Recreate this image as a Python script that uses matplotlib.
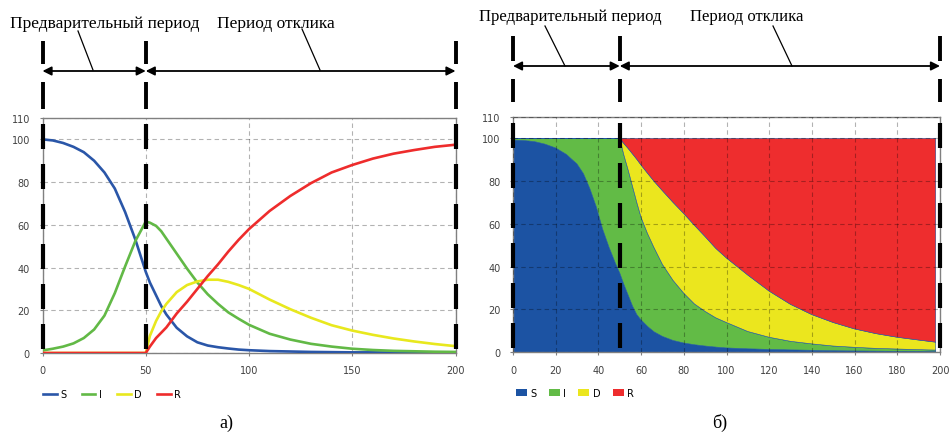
import matplotlib
matplotlib.use("Agg")
import matplotlib.pyplot as plt
from matplotlib.patches import Patch
from matplotlib.lines import Line2D
from matplotlib.transforms import blended_transform_factory

# ---- data: left chart (lines) ----
t = [0, 5, 10, 15, 20, 25, 30, 35, 40, 45, 50, 52, 55, 57.5, 60, 65, 70, 75, 80, 85, 90, 95,
     100, 110, 120, 130, 140, 150, 160, 170, 180, 190, 200]
S = [100, 99.5, 98.3, 96.5, 94, 90, 84.5, 77, 66, 53, 38, 33, 27, 22, 18, 11.8, 7.8, 5, 3.5, 2.7, 2.1, 1.6,
     1.3, 0.9, 0.7, 0.5, 0.4, 0.3, 0.3, 0.2, 0.2, 0.2, 0.1]
I = [1.2, 2, 3, 4.5, 7, 11, 17.5, 28, 40.5, 52.5, 61.5, 61, 59.5, 57, 53.5, 46.5, 39.5, 33, 27.5, 23, 19, 16,
     13.2, 9, 6.3, 4.3, 3, 2, 1.4, 1, 0.8, 0.6, 0.5]
D = [0, 0, 0, 0, 0, 0, 0, 0, 0, 0, 0, 8, 15, 19.5, 23, 28.5, 31.8, 33.5, 34.3, 34.3, 33.3, 31.8,
     30, 25, 20.5, 16.5, 13, 10.5, 8.5, 6.8, 5.4, 4.2, 3.2]
R = [0, 0, 0, 0, 0, 0, 0, 0, 0, 0, 0, 3, 7, 9.5, 12, 18.5, 24, 30, 36, 41.5, 47.5, 53,
     58, 66.5, 73.5, 79.5, 84.5, 88, 91, 93.3, 95, 96.5, 97.5]

# ---- data: right chart (stacked areas) ----
t2 = [0, 5, 10, 15, 20, 25, 30, 33, 36, 39, 42, 45, 48, 50, 52, 54, 56, 58, 60, 63, 66, 70,
      75, 80, 85, 90, 95, 100, 110, 120, 130, 140, 150, 160, 170, 180, 190, 198]
S2 = [99.2, 99, 98.5, 97.3, 95.5, 92.5, 88, 83.5, 76.5, 68, 57.5, 49, 41.5, 37, 31.5, 26.5, 21.5,
      17.5, 15, 12, 9.5, 7.3, 5.4, 4.2, 3.4, 2.8, 2.3, 1.9, 1.5, 1.2, 1.0, 0.8, 0.6, 0.5, 0.4,
      0.3, 0.3, 0.2]
I2 = [0.8, 1.0, 1.5, 2.7, 4.5, 7.5, 12, 16.5, 23.5, 32, 42.5, 51, 58.5, 63, 60.5, 58.5, 56,
      52.5, 48, 43.5, 39.5, 33.7, 28.1, 23.3, 19.1, 16.2, 13.7, 11.9, 8.1, 5.7, 4.0, 3.0, 2.2,
      1.7, 1.3, 1.1, 0.8, 0.7]
D2 = [0, 0, 0, 0, 0, 0, 0, 0, 0, 0, 0, 0, 0, 0, 5.5, 10.2, 15.2, 20.2, 24.5, 28.2, 31, 34.5,
      36.5, 37.3, 36.8, 35, 32.5, 30.2, 26.4, 21.6, 17.3, 13.7, 11, 8.6, 6.9, 5.5, 4.5, 3.7]
R2 = [0, 0, 0, 0, 0, 0, 0, 0, 0, 0, 0, 0, 0, 0, 2.5, 4.8, 7.3, 9.8, 12.5, 16.3, 20, 24.5,
      30, 35.2, 40.7, 46, 51.5, 56, 64, 71.5, 77.7, 82.5, 86.2, 89.2, 91.4, 93.1, 94.4, 95.4]

names = ["S", "I", "D", "R"]
line_colors = ["#2a56a8", "#62b946", "#e8e81e", "#ee2c2c"]
area_colors = ["#1c53a3", "#62bb46", "#ebe61e", "#ee2d2e"]
periods = [0, 50, 200]

W, H = 951, 435
fig = plt.figure(figsize=(W / 100, H / 100), dpi=100)
serif = ["Liberation Serif", "DejaVu Serif"]


def fx(px):
    return px / W


def fy(py):
    return 1 - py / H


def style_axes(ax, xticks):
    ax.set_xlim(0, 200)
    ax.set_ylim(0, 110)
    ax.set_xticks(xticks)
    ax.set_yticks([0, 20, 40, 60, 80, 100, 110])
    ax.tick_params(labelsize=7, colors="#808080", labelcolor="#404040", length=2, pad=7)
    for sp in ax.spines.values():
        sp.set_color("#808080")
        sp.set_linewidth(1)
    ax.grid(True, color="black", alpha=0.3, linestyle=(0, (4, 3)), linewidth=0.8)
    for x in periods:
        ax.plot([x, x], [107, -2.5], color="black", lw=3, dashes=(6, 3.6),
                clip_on=False, zorder=10, solid_capstyle="butt", dash_capstyle="butt")


def header(ax, y_top, y_arrow, y_bot, txt_x, txt_y, fs, leaders):
    tr = blended_transform_factory(ax.transData, fig.transFigure)
    for x in periods:
        for y0, y1 in (y_top, y_bot):
            ax.plot([x, x], [fy(y0), fy(y1)], color="black", lw=2.8,
                    transform=tr, clip_on=False, solid_capstyle="butt")
    for a, b in zip(periods[:-1], periods[1:]):
        ax.annotate("", xy=(b, fy(y_arrow)), xytext=(a, fy(y_arrow)),
                    xycoords=tr, textcoords=tr,
                    arrowprops=dict(arrowstyle="<|-|>", color="black", lw=1.3,
                                    mutation_scale=13, shrinkA=0, shrinkB=0))
    for label, x in zip(["Предварительный период", "Период отклика"], txt_x):
        fig.text(fx(x), fy(txt_y), label, ha="center", va="baseline",
                 fontsize=fs, family=serif)
    for (x0, y0), (x1, y1) in leaders:
        fig.add_artist(Line2D([fx(x0), fx(x1)], [fy(y0), fy(y1)], color="black", lw=0.9))


# ---- left chart ----
ax1 = fig.add_axes([fx(42.5), fy(354), fx(413), 235 / H])
for vals, c, n in zip([S, I, D, R], line_colors, names):
    ax1.plot(t, vals, color=c, lw=1.9, label=n, zorder=3)
style_axes(ax1, [0, 50, 100, 150, 200])
ax1.legend(loc="center left", bbox_to_anchor=(fx(43), fy(395)), bbox_transform=fig.transFigure,
           ncol=4, frameon=False, fontsize=7, handlelength=1.4, handletextpad=0.35,
           columnspacing=1.6, borderpad=0, borderaxespad=0)

# ---- right chart ----
ax2 = fig.add_axes([fx(513), fy(353), fx(427), 235 / H])
ax2.stackplot(t2, S2, I2, D2, R2, colors=area_colors, linewidth=0.4,
              edgecolors=area_colors, zorder=1)
style_axes(ax2, list(range(0, 201, 20)))
ax2.set_axisbelow(False)
handles = [Patch(facecolor=c, edgecolor="none", label=n) for c, n in zip(area_colors, names)]
ax2.legend(handles=handles, loc="center left", bbox_to_anchor=(fx(516), fy(394)),
           bbox_transform=fig.transFigure, ncol=4, frameon=False, fontsize=7,
           handlelength=1.1, handleheight=0.8, handletextpad=0.35, columnspacing=1.3,
           borderpad=0, borderaxespad=0)

header(ax1, (42, 65), 72, (83, 110), (104.5, 275.5), 28, 12.5,
       [((78, 32), (93, 71)), ((302, 30), (320, 71))])
header(ax2, (37, 62), 67, (80, 103), (570, 746.5), 21, 12,
       [((545, 27), (565, 67)), ((773, 27), (792, 67))])

fig.text(fx(226), fy(423), "а)", ha="center", va="center", fontsize=13, family=serif)
fig.text(fx(720), fy(423), "б)", ha="center", va="center", fontsize=13, family=serif)

fig.savefig("out.png", dpi=100)
